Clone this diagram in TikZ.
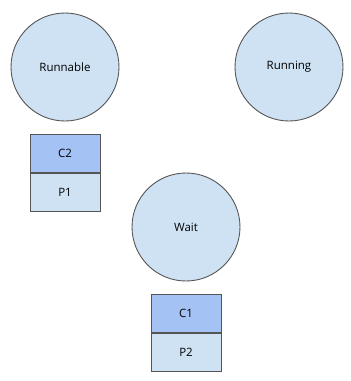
\documentclass[tikz,border=0pt]{standalone}
\usepackage{fontspec}
\setmainfont{Open Sans}
\usetikzlibrary{positioning}
\definecolor{Edge}{HTML}{555555}
\definecolor{Pale}{HTML}{CFE2F3}
\definecolor{Deep}{HTML}{A4C2F4}

\begin{document}
\begin{tikzpicture}[x=1bp,y=-1bp,node distance=12.5bp,
        state/.style={circle,draw=Edge,line width=0.9bp,fill=Pale,minimum size=108bp,inner sep=0pt,
          font=\fontsize{11.5bp}{14bp}\selectfont},
        slot/.style={rectangle,draw=Edge,line width=0.9bp,minimum width=70bp,minimum height=38bp,
          inner sep=0pt,font=\fontsize{11.5bp}{14bp}\selectfont}]
        \useasboundingbox (0,0) rectangle (351,381);
        \node[state] (runnable) at (65,67) {Runnable};
        \node[state] (running) at (289,67) {Running};
        \node[state] (wait) at (186,227) {Wait};
        % stack under Runnable
        \node[slot,fill=Deep,below=of runnable] (c2) {C2};
        \node[slot,fill=Pale,below=0pt of c2] (p1) {P1};
        % stack under Wait
        \node[slot,fill=Deep,below=of wait] (c1) {C1};
        \node[slot,fill=Pale,below=0pt of c1] (p2) {P2};
      \end{tikzpicture}
\end{document}
